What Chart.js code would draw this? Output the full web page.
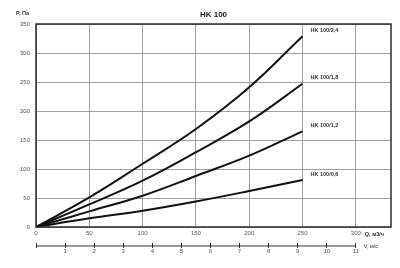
<!DOCTYPE html>
<html>
<head>
<meta charset="utf-8">
<script src="https://cdn.jsdelivr.net/npm/chart.js@4/dist/chart.umd.min.js"></script>
<style>
  html, body { margin: 0; padding: 0; background: #fff; }
  #wrap { width: 400px; height: 268px; }
</style>
</head>
<body>
<div id="wrap"><canvas id="c" width="400" height="268"></canvas></div>
<script>
// ---- data ----
const chartTitle = 'HK 100';
const flowQ = [0, 50, 100, 150, 200, 250];          // Q, м3/ч
const hk24 = [0, 51, 109, 169, 241, 329];           // P, Па
const hk18 = [0, 39, 80, 129, 182, 247];
const hk12 = [0, 27, 54, 88, 123, 165];
const hk06 = [0, 15, 28, 44, 62, 81];
const seriesNames = ['HK 100/2,4', 'HK 100/1,8', 'HK 100/1,2', 'HK 100/0,6'];
const qTicks = [0, 50, 100, 150, 200, 250, 300];
const pTicks = [0, 50, 100, 150, 200, 250, 300, 350];
const vTicks = [0, 1, 2, 3, 4, 5, 6, 7, 8, 9, 10, 11];
const qMax = 333;
const vAtQ300 = 11;

const FONT = '"Liberation Sans", Arial, sans-serif';
const allSeries = [hk24, hk18, hk12, hk06];

const mkData = arr => flowQ.map((q, i) => ({ x: q, y: arr[i] }));

const extras = {
  id: 'extras',
  afterDraw(chart) {
    const ctx = chart.ctx;
    const a = chart.chartArea;
    const xs = chart.scales.x, ys = chart.scales.y, vs = chart.scales.v;
    ctx.save();
    // frame
    ctx.strokeStyle = '#2a2a2a';
    ctx.lineWidth = 1.5;
    ctx.strokeRect(a.left, a.top, a.right - a.left, a.bottom - a.top);
    // title
    ctx.fillStyle = '#222';
    ctx.textAlign = 'center';
    ctx.textBaseline = 'middle';
    ctx.font = 'bold 8px ' + FONT;
    ctx.fillText(chartTitle, (a.left + a.right) / 2, 15);
    // y title
    ctx.font = 'bold 5.5px ' + FONT;
    ctx.fillStyle = '#333';
    ctx.fillText('P, Па', 22.5, 13);
    // x titles
    ctx.textAlign = 'left';
    ctx.font = 'bold 5.5px ' + FONT;
    ctx.fillText('Q, м3/ч', xs.getPixelForValue(300) + 9, 234);
    ctx.font = '5.5px ' + FONT;
    ctx.fillText('V, м/с', xs.getPixelForValue(300) + 8, 246);
    // series labels
    ctx.font = 'bold 5.5px ' + FONT;
    allSeries.forEach((s, i) => {
      const last = s[s.length - 1];
      ctx.fillText(seriesNames[i], xs.getPixelForValue(flowQ[flowQ.length - 1]) + 8,
                   ys.getPixelForValue(last) - 6);
    });
    // V axis line
    const vy = vs.top + 3;
    ctx.strokeStyle = '#333';
    ctx.lineWidth = 1;
    ctx.beginPath();
    ctx.moveTo(vs.getPixelForValue(0), vy);
    ctx.lineTo(vs.getPixelForValue(vTicks[vTicks.length - 1]), vy);
    ctx.stroke();
    ctx.restore();
  }
};

const ds = allSeries.map((s, i) => ({
  label: seriesNames[i],
  data: mkData(s),
  borderColor: '#111',
  borderWidth: 2,
  pointRadius: 0,
  fill: false,
  tension: 0.4
}));

new Chart(document.getElementById('c'), {
  type: 'line',
  data: { datasets: ds },
  plugins: [extras],
  options: {
    responsive: false,
    animation: false,
    events: [],
    layout: { padding: { top: 24, right: 9, left: 0, bottom: 0 } },
    plugins: { legend: { display: false }, title: { display: false }, tooltip: { enabled: false } },
    scales: {
      x: {
        type: 'linear', position: 'bottom', weight: 0,
        min: 0, max: qMax,
        afterBuildTicks: s => { s.ticks = qTicks.map(v => ({ value: v })); },
        afterFit: s => { s.height = 16; },
        grid: { color: '#a0a0a0', lineWidth: 1, drawTicks: false },
        border: { display: false },
        ticks: { padding: 3, color: '#555', font: { family: FONT, size: 6 }, maxRotation: 0 }
      },
      v: {
        type: 'linear', position: 'bottom', weight: 1,
        min: 0, max: vAtQ300 * qMax / 300,
        afterBuildTicks: s => { s.ticks = vTicks.map(v => ({ value: v })); },
        afterFit: s => { s.height = 25; },
        grid: { display: true, drawOnChartArea: false, drawTicks: true, tickLength: 5, color: '#333', lineWidth: 1 },
        border: { display: false },
        ticks: { padding: 0, color: '#555', font: { family: FONT, size: 6 }, maxRotation: 0,
                 callback: v => (v === 0 ? '' : String(v)) }
      },
      y: {
        type: 'linear', position: 'left',
        min: 0, max: 350,
        afterBuildTicks: s => { s.ticks = pTicks.map(v => ({ value: v })); },
        afterFit: s => { s.width = 36; },
        grid: { color: '#a0a0a0', lineWidth: 1, drawTicks: false },
        border: { display: false },
        ticks: { padding: 6, color: '#555', font: { family: FONT, size: 6 } }
      }
    }
  }
});
</script>
</body>
</html>
